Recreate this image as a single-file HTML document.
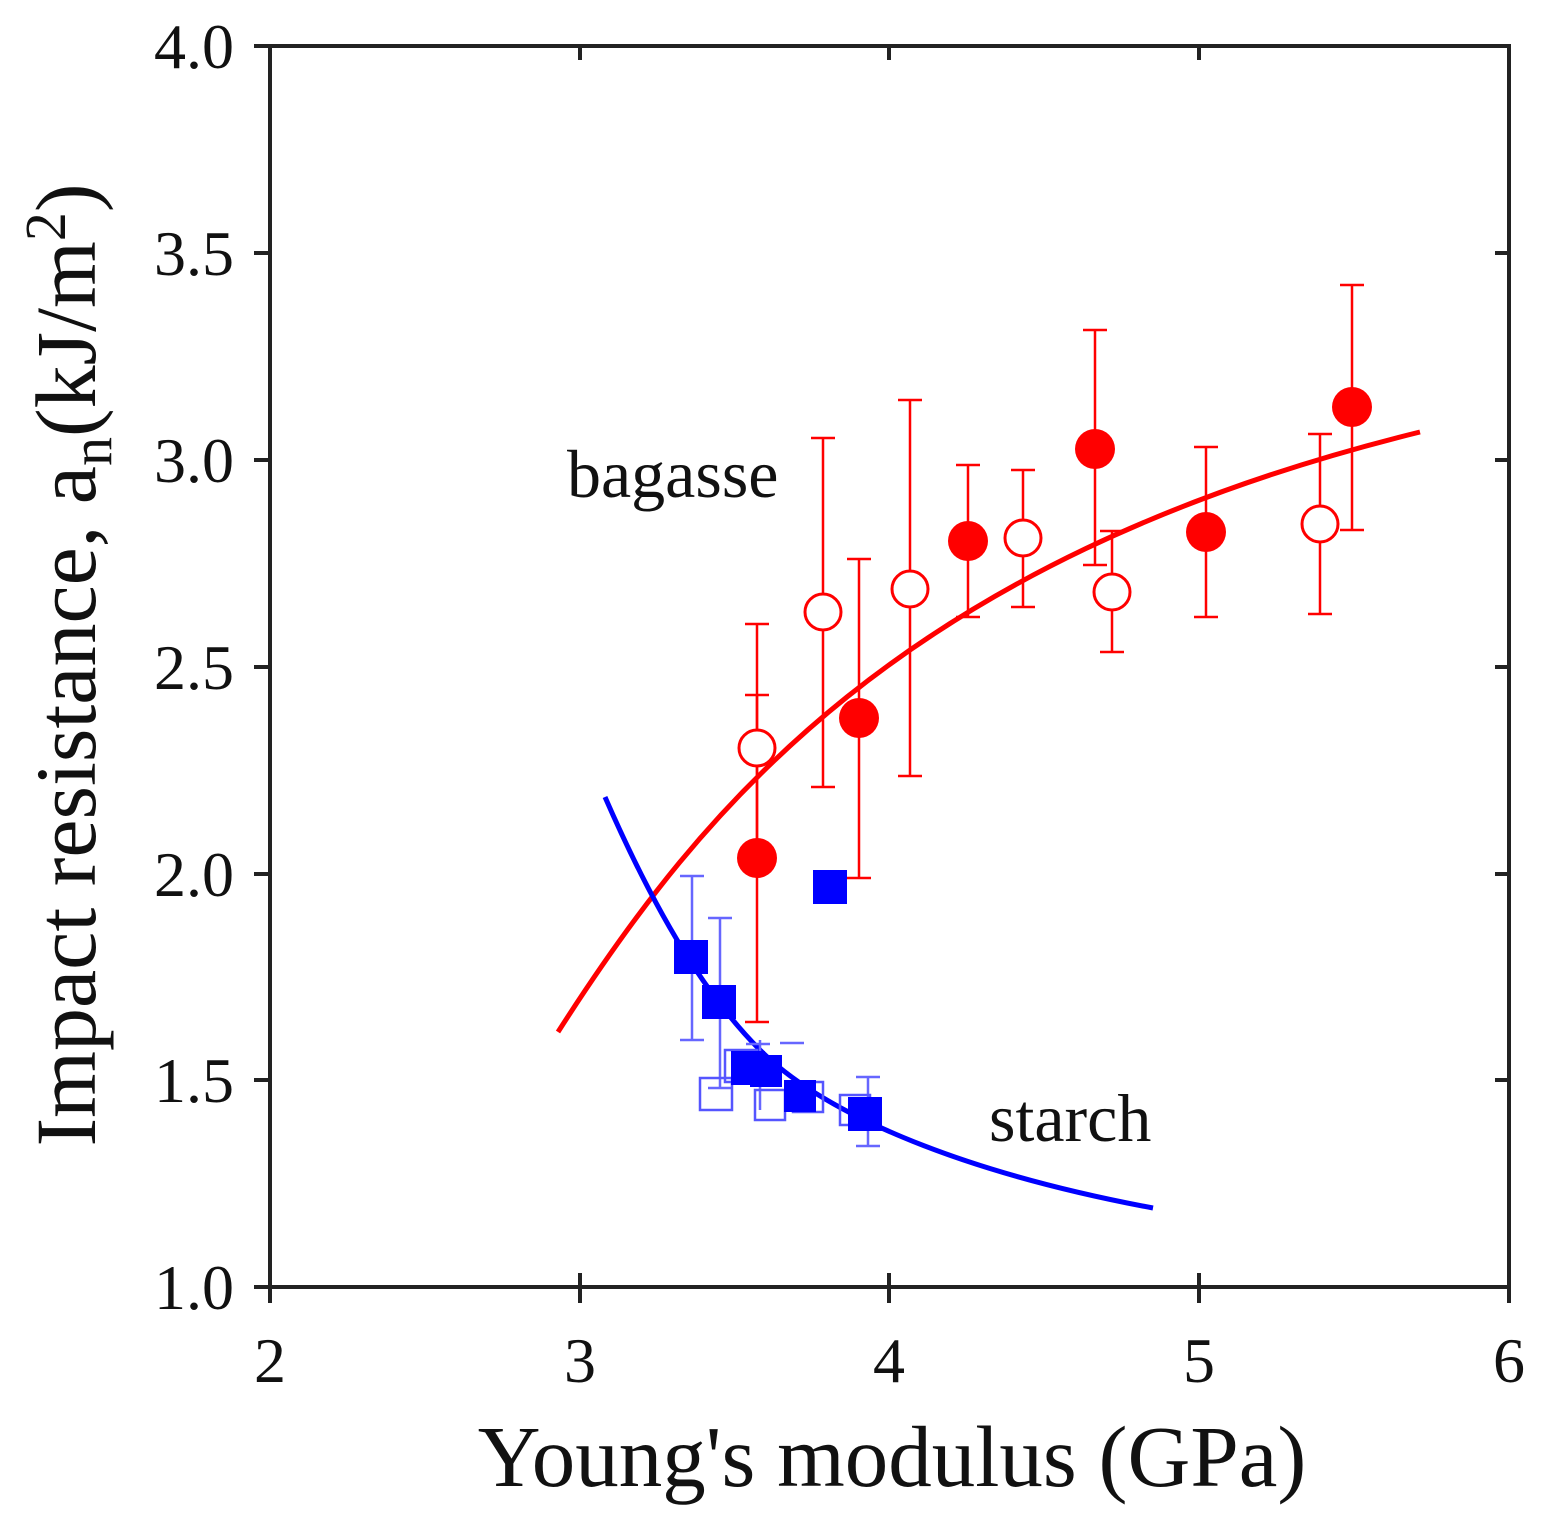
<!DOCTYPE html>
<html><head><meta charset="utf-8"><style>body{margin:0;background:#fff}svg{display:block}</style></head><body>
<svg width="1546" height="1531" viewBox="0 0 1546 1531" xmlns="http://www.w3.org/2000/svg" font-family="Liberation Serif, serif">
<rect width="1546" height="1531" fill="#fff"/>
<g stroke="#222" stroke-width="4" fill="none">
<rect x="270" y="46" width="1239" height="1241"/>
<path d="M270 1287v16M580 1287v16M889 1287v16M1199 1287v16M1509 1287v16"/>
<path d="M580 1287v-14M889 1287v-14M1199 1287v-14M580 46v14M889 46v14M1199 46v14"/>
<path d="M254 46h16M254 253h16M254 460h16M254 667h16M254 874h16M254 1080h16M254 1287h16"/>
<path d="M1509 253h-14M1509 460h-14M1509 667h-14M1509 874h-14M1509 1080h-14"/>
</g>
<g font-size="64" fill="#111" text-anchor="end">
<text x="234" y="68">4.0</text><text x="234" y="275">3.5</text><text x="234" y="482">3.0</text>
<text x="234" y="689">2.5</text><text x="234" y="896">2.0</text><text x="234" y="1102">1.5</text><text x="234" y="1309">1.0</text>
</g>
<g font-size="64" fill="#111" text-anchor="middle">
<text x="270" y="1382">2</text><text x="580" y="1382">3</text><text x="889" y="1382">4</text><text x="1199" y="1382">5</text><text x="1509" y="1382">6</text>
</g>
<text x="892" y="1486" font-size="87" text-anchor="middle" fill="#111">Young's modulus (GPa)</text>
<text transform="translate(95,665) rotate(-90)" font-size="86" text-anchor="middle" fill="#111">Impact resistance, a<tspan font-size="58" dy="16">n</tspan><tspan dy="-16">(kJ/m</tspan><tspan font-size="58" dy="-30">2</tspan><tspan dy="30">)</tspan></text>
<text x="567" y="497" font-size="68" fill="#111">bagasse</text>
<text x="989" y="1141" font-size="68" fill="#111">starch</text>
<path d="M558 1032 C700 810 900 560 1420 432" stroke="#f00" stroke-width="5" fill="none"/>
<path d="M605 797 C650 900 700 990 760 1050 S950 1170 1153 1208" stroke="#00f" stroke-width="5" fill="none"/>
<g stroke="#f00" stroke-width="2.5" fill="none">
<path d="M757 695V1022M745 695h24M745 1022h24"/>
<path d="M859 559V878M847 559h24M847 878h24"/>
<path d="M968 465V617M956 465h24M956 617h24"/>
<path d="M1095 330V565M1083 330h24M1083 565h24"/>
<path d="M1206 447V617M1194 447h24M1194 617h24"/>
<path d="M1352 285V530M1340 285h24M1340 530h24"/>
<path d="M757 624V870M745 624h24"/>
<path d="M823 438V787M811 438h24M811 787h24"/>
<path d="M910 400V776M898 400h24M898 776h24"/>
<path d="M1023 470V607M1011 470h24M1011 607h24"/>
<path d="M1112 531V652M1100 531h24M1100 652h24"/>
<path d="M1320 434V614M1308 434h24M1308 614h24"/>
</g>
<g fill="#fff" stroke="#f00" stroke-width="3">
<circle cx="757" cy="748" r="18"/><circle cx="823" cy="612" r="18"/><circle cx="910" cy="589" r="18"/>
<circle cx="1023" cy="538" r="18"/><circle cx="1112" cy="592" r="18"/><circle cx="1320" cy="524" r="18"/>
</g>
<g fill="#f00">
<circle cx="757" cy="858" r="20"/><circle cx="859" cy="718" r="20"/><circle cx="968" cy="541" r="20"/>
<circle cx="1095" cy="449" r="20"/><circle cx="1206" cy="532" r="20"/><circle cx="1352" cy="407" r="20"/>
</g>
<g stroke="#66f" stroke-width="2.5" fill="none">
<path d="M692 876V1040M680 876h24M680 1040h24"/>
<path d="M720 918V1088M708 918h24M708 1088h24"/>
<path d="M760 1040V1110M868 1077V1146M856 1077h24M856 1146h24"/>
<path d="M746 1044h24M780 1043h24"/>
</g>
<g fill="none" stroke="#55f" stroke-width="2.5">
<rect x="700" y="1078" width="32" height="32"/><rect x="725" y="1050" width="32" height="32"/>
<rect x="755" y="1090" width="30" height="30"/><rect x="793" y="1082" width="30" height="30"/>
<rect x="840" y="1095" width="30" height="30"/>
</g>
<g fill="#00f">
<rect x="674" y="940" width="34" height="34"/><rect x="702" y="985" width="34" height="34"/>
<rect x="731" y="1051" width="34" height="34"/><rect x="750" y="1055" width="32" height="32"/>
<rect x="784" y="1080" width="32" height="32"/><rect x="848" y="1097" width="34" height="34"/>
<rect x="813" y="870" width="34" height="34"/>
</g>
</svg>
</body></html>
